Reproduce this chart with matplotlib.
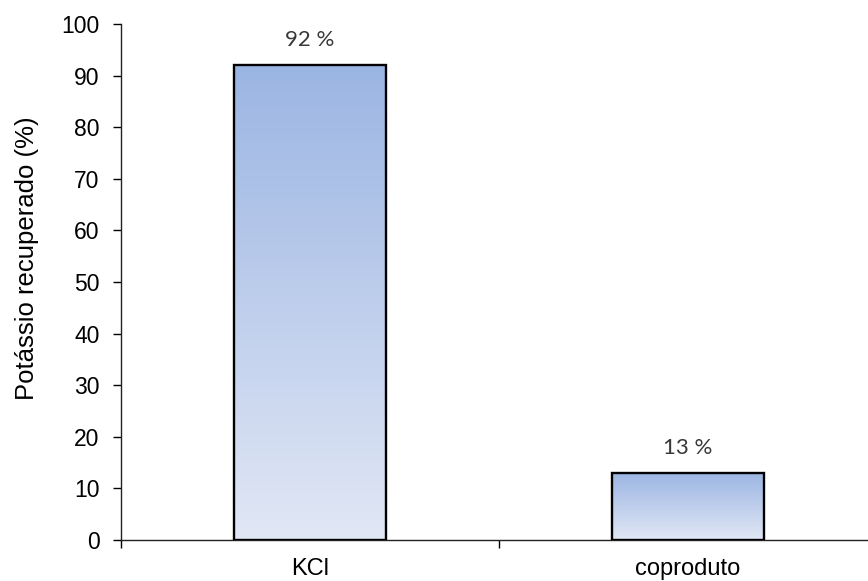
import numpy as np
import matplotlib.pyplot as plt
from matplotlib.colors import LinearSegmentedColormap
from matplotlib.patches import Rectangle

categories = ["KCl", "coproduto"]
values = [92, 13]
value_labels = ["92 %", "13 %"]
y_label = "Potássio recuperado (%)"

plt.rcParams['font.family'] = ['Liberation Sans', 'DejaVu Sans']

fig = plt.figure(figsize=(8.68, 5.81), dpi=100)
ax = fig.add_axes([121 / 868, 41 / 581, 756 / 868, 516 / 581])

x = np.arange(len(categories))
bar_w = 0.4
bars = ax.bar(x, values, width=bar_w, facecolor='none', edgecolor='black',
              linewidth=1.7, zorder=3)

# vertical gradient inside each bar: darker blue at the top
grad_cmap = LinearSegmentedColormap.from_list('bar_grad', ['#e1e7f5', '#9bb5e3'])
grad = np.linspace(0, 1, 256).reshape(-1, 1)
for b in bars:
    x0, w, h = b.get_x(), b.get_width(), b.get_height()
    im = ax.imshow(grad, cmap=grad_cmap, origin='lower', aspect='auto',
                   extent=(x0, x0 + w, 0, h), zorder=2)
    im.set_clip_path(Rectangle((x0, 0), w, h, transform=ax.transData))

for xi, v, lab in zip(x, values, value_labels):
    ax.annotate(lab, (xi, v), xytext=(0, 18), textcoords='offset points',
                ha='center', va='center', fontsize=16, color='#383838',
                family=['Lato', 'DejaVu Sans'])

ax.set_xlim(-0.5, len(categories) - 0.5)
ax.set_ylim(0, 100)
ax.set_yticks(range(0, 101, 10))
ax.set_xticks(x)
ax.set_xticklabels(categories)
ax.set_xticks(np.arange(-0.5, len(categories), 1.0), minor=True)
ax.tick_params(axis='x', which='major', length=0, pad=13, labelsize=17)
ax.tick_params(axis='x', which='minor', length=5.5, width=1, direction='out')
ax.tick_params(axis='y', length=5.5, width=1, direction='out', pad=10, labelsize=16.5)

for s in ['top', 'right']:
    ax.spines[s].set_visible(False)
for s in ['left', 'bottom']:
    ax.spines[s].set_linewidth(1)
    ax.spines[s].set_color('#222222')

ax.set_ylabel(y_label, fontsize=18.5, va='center')
ax.yaxis.set_label_coords(-0.124, 0.547)

fig.savefig('out.png', dpi=100)
